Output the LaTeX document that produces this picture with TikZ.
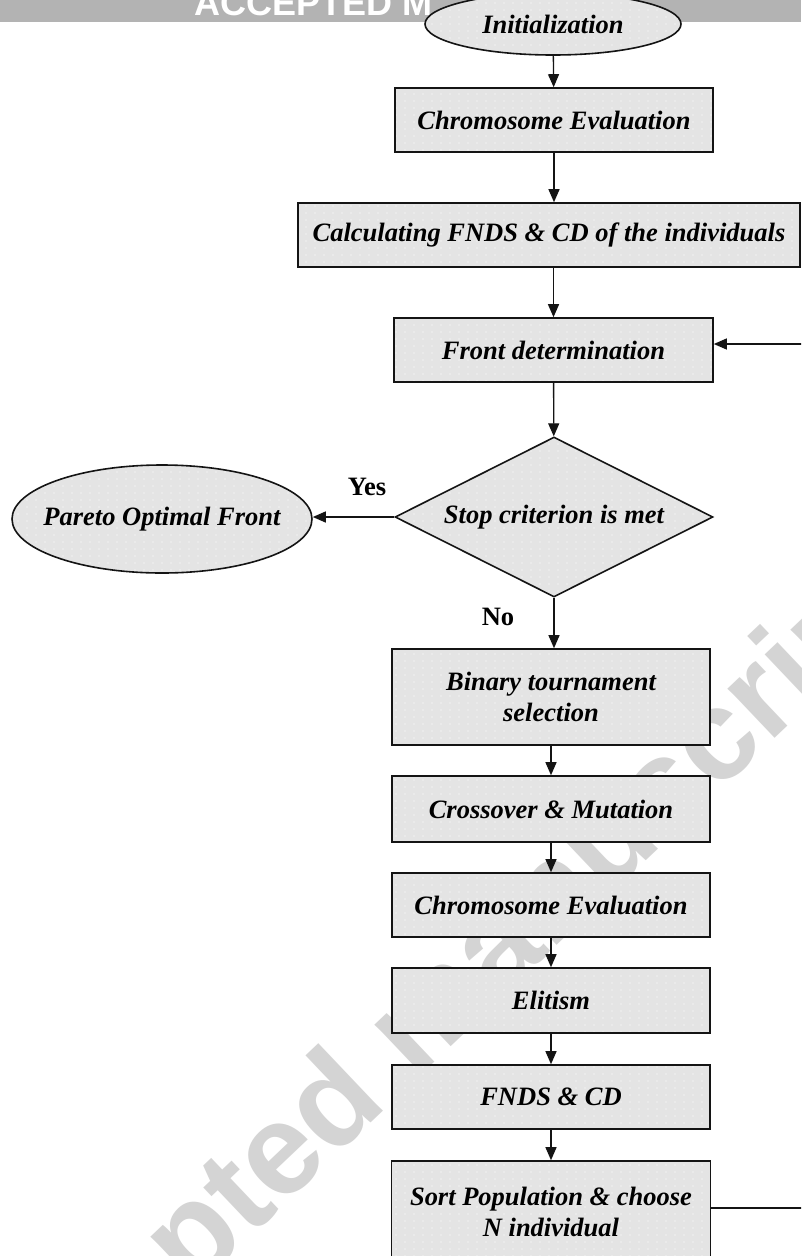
\documentclass[tikz,border=0pt]{standalone}
\usepackage{fontspec}
\setmainfont{Liberation Serif}
\newfontfamily\wmfont{Liberation Sans}
\usetikzlibrary{shapes.geometric,arrows.meta,patterns.meta}
\definecolor{boxfill}{HTML}{E4E4E4}
\definecolor{bandgray}{HTML}{B3B3B3}
\definecolor{wmgray}{HTML}{D4D4D4}
\definecolor{edgecol}{HTML}{141414}
\tikzdeclarepattern{
  name=wdots,
  type=uncolored,
  bounding box={(-1pt,-1pt) and (8pt,6pt)},
  tile size={(9pt,7pt)},
  code={\fill (0pt,0pt) circle (0.7pt);}
}
\newcommand{\lblfont}{\fontsize{26.5}{31}\selectfont\bfseries\itshape}
\tikzset{
  shaded/.style={preaction={fill=boxfill}, pattern=wdots, pattern color=white,
    draw=edgecol, line width=1.6pt, inner sep=0pt, align=center, font=\lblfont},
  stepbox/.style={shaded, rectangle},
  ellbox/.style={shaded, ellipse},
  decbox/.style={shaded, diamond, aspect=2},
  arr/.style={draw=edgecol, line width=1.3pt, -{Triangle[length=13pt,width=11pt]}},
  yesno/.style={font=\fontsize{26.5}{31}\selectfont\bfseries, inner sep=0pt}
}
\begin{document}
\begin{tikzpicture}[x=1pt,y=-1pt]
\useasboundingbox (0,0) rectangle (801,1256);
\clip (0,0) rectangle (801,1256);
\fill[white] (0,0) rectangle (801,1256);
% watermark
\node[rotate=43.5, anchor=base, text=wmgray, inner sep=0pt,
  font=\wmfont\bfseries\fontsize{129}{129}\selectfont] (wm) at (444,1053) {Accepted manuscript};
% header band
\fill[bandgray] (0,-10) rectangle (801,22);
\node[text=white, inner sep=0pt, anchor=base west,
  font=\wmfont\bfseries\fontsize{36}{36}\selectfont] (hdr) at (194,15) {ACCEPTED M};
% nodes
\node[ellbox, minimum width=256pt, minimum height=62pt] (init) at (553,24) {Initialization};
\node[stepbox, minimum width=318pt, minimum height=64pt] (ce1) at (554,120) {Chromosome Evaluation};
\node[stepbox, minimum width=502pt, minimum height=64pt] (calc) at (549,235) {Calculating FNDS \& CD of the individuals};
\node[stepbox, minimum width=319pt, minimum height=64pt] (front) at (553.5,350) {Front determination};
\node[decbox, minimum width=318pt, minimum height=160pt] (dec) at (554,517) {Stop criterion is met};
\node[ellbox, minimum width=300pt, minimum height=108pt] (pareto) at (162,519) {\makebox[0pt]{Pareto Optimal Front}};
\node[stepbox, minimum width=318pt, minimum height=96pt] (bin) at (551,697) {Binary tournament\\selection};
\node[stepbox, minimum width=318pt, minimum height=66pt] (cross) at (551,809) {Crossover \& Mutation};
\node[stepbox, minimum width=318pt, minimum height=64pt] (ce2) at (551,905) {Chromosome Evaluation};
\node[stepbox, minimum width=318pt, minimum height=65pt] (elit) at (551,1000.5) {Elitism};
\node[stepbox, minimum width=318pt, minimum height=64pt] (fnds) at (551,1097) {FNDS \& CD};
\node[stepbox, minimum width=319pt, minimum height=101pt] (sort) at (551,1211.5) {Sort Population \& choose\\N individual};
\node[yesno] (yes) at (367,487) {Yes};
\node[yesno] (no) at (498,617) {No};
% connectors
\draw[arr] (init) -- (ce1);
\draw[arr] (ce1.south) -- (ce1.south |- calc.north);
\draw[arr] (front.north |- calc.south) -- (front.north);
\draw[arr] (front) -- (dec);
\draw[arr] (dec.west) -- (dec.west -| pareto.east);
\draw[arr] (dec.south) -- (dec.south |- bin.north);
\draw[arr] (bin) -- (cross);
\draw[arr] (cross) -- (ce2);
\draw[arr] (ce2) -- (elit);
\draw[arr] (elit) -- (fnds);
\draw[arr] (fnds) -- (sort);
\coordinate (fbR) at (815,1208);
\draw[arr] (sort.east |- fbR) -- (fbR) |- ([yshift=6pt]front.east);
\end{tikzpicture}
\end{document}
